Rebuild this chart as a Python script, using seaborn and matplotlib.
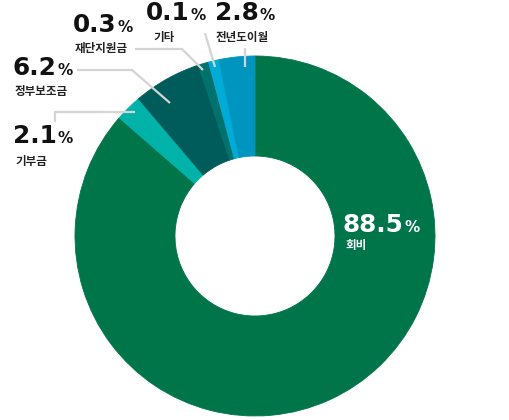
import matplotlib
matplotlib.use("Agg")
import matplotlib.pyplot as plt
import seaborn as sns

# labels and shares shown on the chart
categories = ["회비", "기부금", "정부보조금", "재단지원금", "기타", "전년도이월"]
pct_labels = ["88.5", "2.1", "6.2", "0.3", "0.1", "2.8"]
# slice sizes as drawn (small slices are shown a bit larger than their value)
slice_sizes = [86.4, 2.4, 6.1, 0.95, 0.95, 3.2]
colors = ["#00754A", "#00B2A8", "#005B5B", "#00726E", "#00ABD5", "#0095BE"]

sns.set_theme(style="white")
plt.rcParams["font.family"] = ["Noto Sans CJK KR", "DejaVu Sans"]

W, H = 510, 420
fig = plt.figure(figsize=(W / 100, H / 100), dpi=100)
ax = fig.add_axes([0, 0, 1, 1])

cx, cy, r = 255, H - 236, 180
wedges, _ = ax.pie(
    slice_sizes,
    colors=colors,
    startangle=90,
    counterclock=False,
    center=(cx, cy),
    radius=r,
    wedgeprops=dict(width=100, linewidth=0.6),
)
for w, c in zip(wedges, colors):
    w.set_edgecolor(c)

ax.set_xlim(0, W)
ax.set_ylim(0, H)
ax.set_aspect("equal")
ax.axis("off")

# leader lines (image pixel coords)
leaders = [
    [(55, 122), (55, 112), (135, 112)],
    [(77, 70), (132, 70), (170, 103)],
    [(135, 49), (182, 49), (203, 70)],
    [(205, 33), (215, 67)],
    [(245, 48), (245, 67)],
]
for pts in leaders:
    xs = [p[0] for p in pts]
    ys = [H - p[1] for p in pts]
    ax.plot(xs, ys, color="#d4d4d4", lw=1.6, solid_capstyle="butt")

# label positions: (x, number baseline, label centre)
label_pos = {
    "회비": (343, 232, 246),
    "기부금": (13, 143, 162),
    "정부보조금": (13, 75, 91),
    "재단지원금": (73, 32, 48),
    "기타": (146, 20, 37),
    "전년도이월": (215, 20, 37),
}
label_dx = {"회비": 2, "기부금": 2, "정부보조금": 2, "재단지원금": 2, "기타": 7, "전년도이월": 1}

num_font = dict(family="DejaVu Sans", fontweight="bold")

fig.canvas.draw()
renderer = fig.canvas.get_renderer()
for cat, pct in zip(categories, pct_labels):
    x, yb, yl = label_pos[cat]
    col = "white" if cat == "회비" else "#111111"
    t = ax.text(x, H - yb, pct, fontsize=17.8, color=col,
                ha="left", va="baseline", **num_font)
    bb = t.get_window_extent(renderer=renderer)
    ax.text(bb.x1 + 1, H - yb, "%", fontsize=11, color=col,
            ha="left", va="baseline", **num_font)
    ax.text(x + label_dx.get(cat, 0), H - yl, cat, fontsize=8.3, fontweight="bold",
            color="white" if cat == "회비" else "#222222", ha="left", va="center")

fig.savefig("out.png", dpi=100)
